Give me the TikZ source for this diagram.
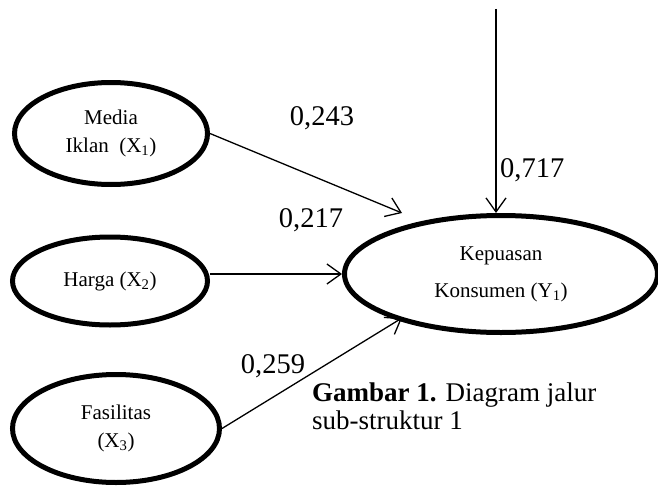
\documentclass[tikz,border=0pt]{standalone}
\usepackage{fontspec}
\setmainfont{Liberation Serif}
\usetikzlibrary{shapes.geometric,arrows.meta}
\begin{document}
\begin{tikzpicture}[x=1pt,y=-1pt,
  varnode/.style={ellipse,draw,line width=5pt,inner sep=0pt,align=center,
    font=\fontsize{21}{28}\selectfont},
  arr/.style={line width=1.3pt,-{Straight Barb[length=14pt,width=20pt,line width=1.3pt]}},
  coef/.style={inner sep=0pt,anchor=base,font=\fontsize{28.5}{32}\selectfont}]
\useasboundingbox (0,0) rectangle (658,487);
\node[varnode,minimum width=193pt,minimum height=102pt] (X1) at (111,133.5) {Media\\Iklan\ \ (X\textsubscript{1})};
\node[varnode,minimum width=195pt,minimum height=88pt] (X2) at (110,281) {Harga (X\textsubscript{2})};
\node[varnode,minimum width=207pt,minimum height=108pt] (X3) at (116,428.5) {Fasilitas\\(X\textsubscript{3})};
\node[varnode,minimum width=313pt,minimum height=117pt,font=\fontsize{21}{37}\selectfont] (Y1) at (501,274) {Kepuasan\\Konsumen (Y\textsubscript{1})};
\coordinate (t1) at (402,213);
\coordinate (t3) at (402,318);
\coordinate (top) at (496,9);
\draw[arr] (X1.east) -- (t1);
\draw[arr] (X2.east |- Y1.west) -- (Y1.west);
\draw[arr] (X3.east) -- (t3);
\draw[arr] (top) -- (top |- Y1.north);
\node[coef] (c1) at (322,125) {0,243};
\node[coef] (c2) at (311,227) {0,217};
\node[coef] (c3) at (273,373) {0,259};
\node[coef,anchor=base west] (c4) at (500,177) {0,717};
\node[inner sep=0pt,anchor=base west,align=left,font=\fontsize{27}{28}\selectfont] (cap) at (312,429)
  {\textbf{Gambar 1.} Diagram jalur\\sub-struktur 1};
\end{tikzpicture}
\end{document}
